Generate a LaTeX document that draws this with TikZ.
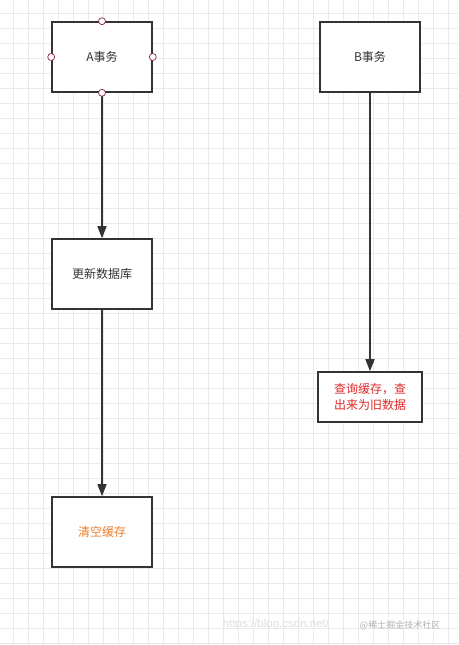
\documentclass[tikz,border=0pt]{standalone}
\usepackage{fontspec}
\setmainfont{Liberation Sans}
\newfontfamily\cjk{Noto Sans CJK SC}
\usetikzlibrary{arrows.meta}
\definecolor{ink}{RGB}{51,51,51}
\definecolor{gridc}{RGB}{234,234,234}
\definecolor{orangetxt}{RGB}{235,125,40}
\definecolor{redtxt}{RGB}{222,40,40}
\definecolor{portc}{RGB}{140,40,60}

\begin{document}
\begin{tikzpicture}[x=1pt,y=-1pt,
    box/.style={draw=ink, line width=1.6pt, fill=white, minimum width=100pt, minimum height=70pt,
      inner sep=0pt, align=center, text=ink, font=\cjk\fontsize{12}{16.5}\selectfont},
    flow/.style={draw=ink, line width=1.5pt, -{Triangle[length=12pt,width=9pt]}},
    port/.style={circle, draw=portc, fill=white, line width=0.7pt, inner sep=0pt, minimum size=7pt}]
  \useasboundingbox (0,0) rectangle (458,645);
  \fill[white] (0,0) rectangle (458,645);
  % background grid
  \foreach \g in {-1,...,30} \draw[gridc, line width=0.5pt] (13+15*\g,0) -- (13+15*\g,645);
  \foreach \g in {-1,...,42} \draw[gridc, line width=0.5pt] (0,13+15*\g) -- (458,13+15*\g);

  \node[box] (atx) at (102,57) {A事务};
  \node[box] (upd) at (102,274) {更新数据库};
  \node[box, text=orangetxt] (clr) at (102,532) {清空缓存};
  \node[box] (btx) at (370,57) {B事务};
  \node[box, minimum width=104pt, minimum height=50pt, text=redtxt] (qry) at (370,397) {查询缓存，查\\出来为旧数据};

  \draw[flow] (atx.south) -- (upd.north);
  \draw[flow] (upd.south) -- (clr.north);
  \draw[flow] (btx.south) -- (qry.north);

  \foreach \p in {north,south,east,west} \node[port] at (atx.\p) {};

  \node[text=gray!25, font=\fontsize{11.5}{13}\selectfont] (url) at (276,625) {https://blog.csdn.net/};
  \node[text=gray!60, font=\cjk\fontsize{9}{10}\selectfont] (wm) at (400,625) {@稀土掘金技术社区};
\end{tikzpicture}
\end{document}
